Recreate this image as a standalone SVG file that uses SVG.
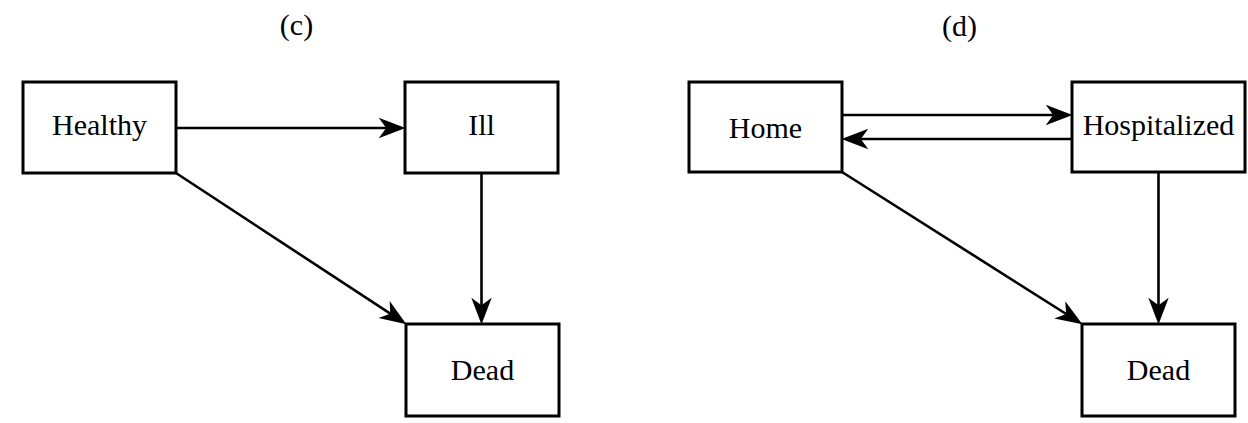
<svg xmlns="http://www.w3.org/2000/svg" width="1248" height="423" viewBox="0 0 1248 423">
<style>
.box{fill:#fff;stroke:#000;stroke-width:3}
.lbl{font-family:"Liberation Serif","Times New Roman",serif;font-size:30px;fill:#000;text-anchor:middle}
.edge{stroke:#000;stroke-width:2.6;fill:none}
</style>
<defs>
<marker id="ah" markerUnits="userSpaceOnUse" markerWidth="30" markerHeight="24" viewBox="-1 -11 28 22" refX="18" refY="0" orient="auto">
<path d="M0,-9.5 L25,0 L0,9.5 L7,0 Z" fill="#000"/>
</marker>
</defs>
<rect width="1248" height="423" fill="#fff"/>
<text class="lbl" x="296.5" y="35">(c)</text>
<text class="lbl" x="959.5" y="36">(d)</text>
<g id="connectors">
<line class="edge" x1="176" y1="128" x2="398" y2="128" marker-end="url(#ah)"/>
<line class="edge" x1="176" y1="173" x2="400.15" y2="320.16" marker-end="url(#ah)"/>
<line class="edge" x1="481.5" y1="173" x2="481.5" y2="317" marker-end="url(#ah)"/>
<line class="edge" x1="842" y1="115" x2="1065" y2="115" marker-end="url(#ah)"/>
<line class="edge" x1="1072" y1="139" x2="849" y2="139" marker-end="url(#ah)"/>
<line class="edge" x1="842" y1="172" x2="1076.09" y2="320.25" marker-end="url(#ah)"/>
<line class="edge" x1="1158.5" y1="172" x2="1158.5" y2="317" marker-end="url(#ah)"/>
</g>
<g id="healthy"><rect class="box" x="23" y="82" width="153" height="91"/><text class="lbl" x="99.5" y="135">Healthy</text></g>
<g id="ill"><rect class="box" x="405" y="82" width="153" height="91"/><text class="lbl" x="481.5" y="135">Ill</text></g>
<g id="dead-c"><rect class="box" x="406" y="324" width="153" height="92"/><text class="lbl" x="482.5" y="380">Dead</text></g>
<g id="home"><rect class="box" x="689" y="82" width="153" height="90"/><text class="lbl" x="765.5" y="138">Home</text></g>
<g id="hospitalized"><rect class="box" x="1072" y="82" width="173" height="90"/><text class="lbl" x="1158.5" y="135">Hospitalized</text></g>
<g id="dead-d"><rect class="box" x="1082" y="324" width="153" height="92"/><text class="lbl" x="1158.5" y="380">Dead</text></g>
</svg>
